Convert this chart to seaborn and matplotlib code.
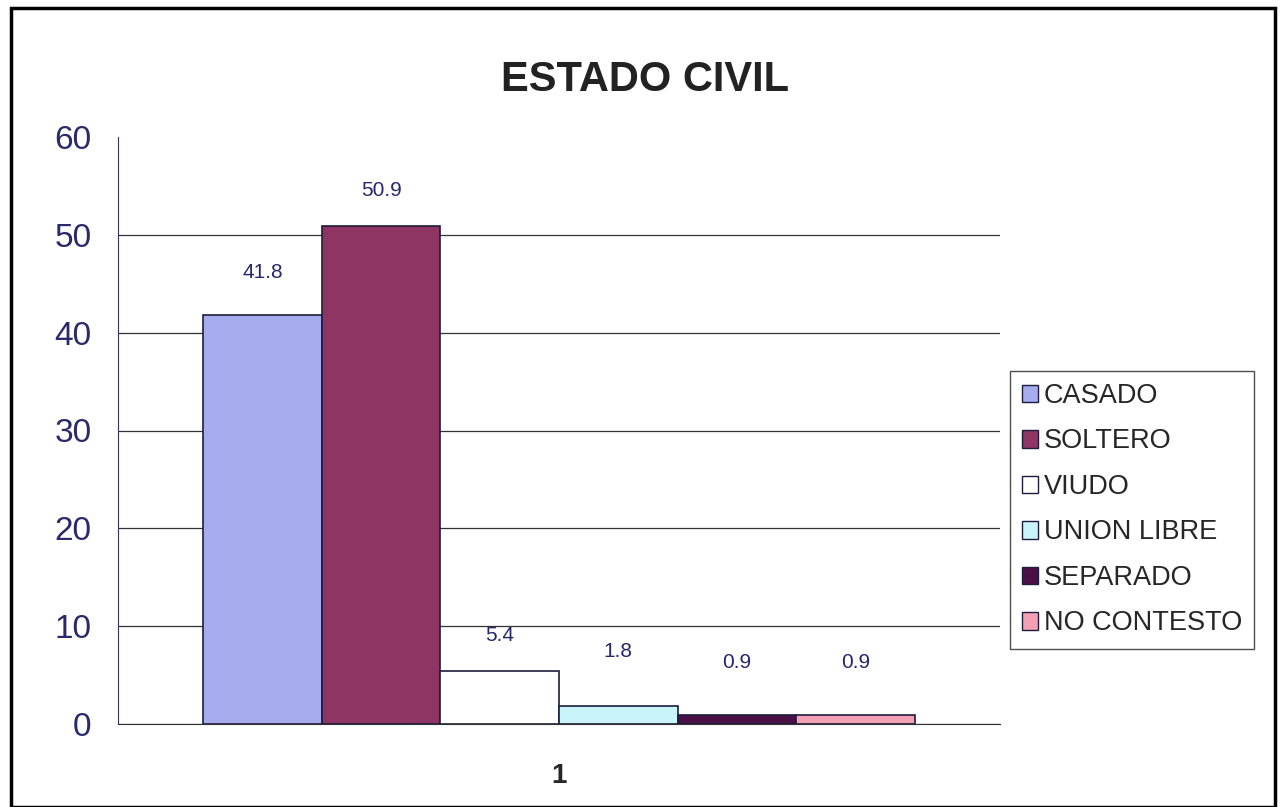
import pandas as pd
import matplotlib
matplotlib.use("Agg")
from matplotlib import pyplot as plt
from matplotlib.patches import Rectangle
import seaborn as sb

# chart data
# ---------------------------------------------------------------------------------
estados = ["CASADO", "SOLTERO", "VIUDO", "UNION LIBRE", "SEPARADO", "NO CONTESTO"]
porcentajes = [41.8, 50.9, 5.4, 1.8, 0.9, 0.9]
colores = ["#a6acee", "#8e3563", "#ffffff", "#c8f4fa", "#4a0f45", "#f4a0b4"]
grupo = ["1"] * len(estados)
y_ticks = [0, 10, 20, 30, 40, 50, 60]

df = pd.DataFrame({"grupo": grupo, "estado": estados, "valor": porcentajes})

sb.set_style("white")
plt.rcParams["font.family"] = ["Liberation Sans", "DejaVu Sans"]

fig = plt.figure(figsize=(12.81, 8.07), dpi=100)
ax = fig.add_axes([118 / 1281, 1 - 724 / 807, 882 / 1281, 587 / 807])

sb.barplot(data=df, x="grupo", y="valor", hue="estado", hue_order=estados,
           palette=colores, width=0.807, edgecolor="#1c1c3c", linewidth=1.2,
           saturation=1, ax=ax)

# value labels above each bar (labels were hand placed in the original, so the gap varies)
label_pads = [24, 19, 19, 33, 31, 31]
for cont, pad in zip(ax.containers, label_pads):
    ax.bar_label(cont, fmt="%.1f", padding=pad, fontsize=15, color="#26266e")

ax.set_ylim(0, 60)
ax.set_xlim(-0.5, 0.5)
ax.set_yticks(y_ticks)
ax.set_yticklabels([str(t) for t in y_ticks], fontsize=24, color="#2a2a6a")
ax.tick_params(axis="y", length=7, width=1, color="#333355", direction="out", pad=12)
ax.tick_params(axis="x", length=0, labelsize=20, pad=28)
for lbl in ax.get_xticklabels():
    lbl.set_fontweight("bold")
ax.set_xticks([-0.5, 0.5], minor=True)
ax.tick_params(axis="x", which="minor", length=10, width=1, color="#333355", direction="out")
ax.set_xlabel("")
ax.set_ylabel("")

ax.yaxis.grid(True, color="#333333", linewidth=0.9)
ax.get_ygridlines()[-1].set_visible(False)
ax.set_axisbelow(True)
for side in ["top", "right"]:
    ax.spines[side].set_visible(False)
ax.spines["left"].set_color("#333366")
ax.spines["bottom"].set_color("#333333")

fig.text(645 / 1281, 1 - 80 / 807, "ESTADO CIVIL", fontsize=30, fontweight="bold",
         color="#222222", ha="center", va="center")

leg = ax.legend(loc="center left", bbox_to_anchor=(1.011, 0.365), fontsize=19.5,
                frameon=True, fancybox=False, edgecolor="#222222",
                handlelength=0.6, handleheight=0.6, handletextpad=0.2,
                labelspacing=0.72, borderpad=0.45, borderaxespad=0)
leg.get_frame().set_linewidth(1.0)
for h in leg.legend_handles:
    h.set_edgecolor("#1c1c3c")
    h.set_linewidth(1.0)

# outer frame of the chart
fig.patches.append(Rectangle((11 / 1281, 0), 1264 / 1281, 1 - 8 / 807,
                             transform=fig.transFigure, fill=False,
                             edgecolor="black", linewidth=2.5))

plt.savefig("out.png", dpi=100)
